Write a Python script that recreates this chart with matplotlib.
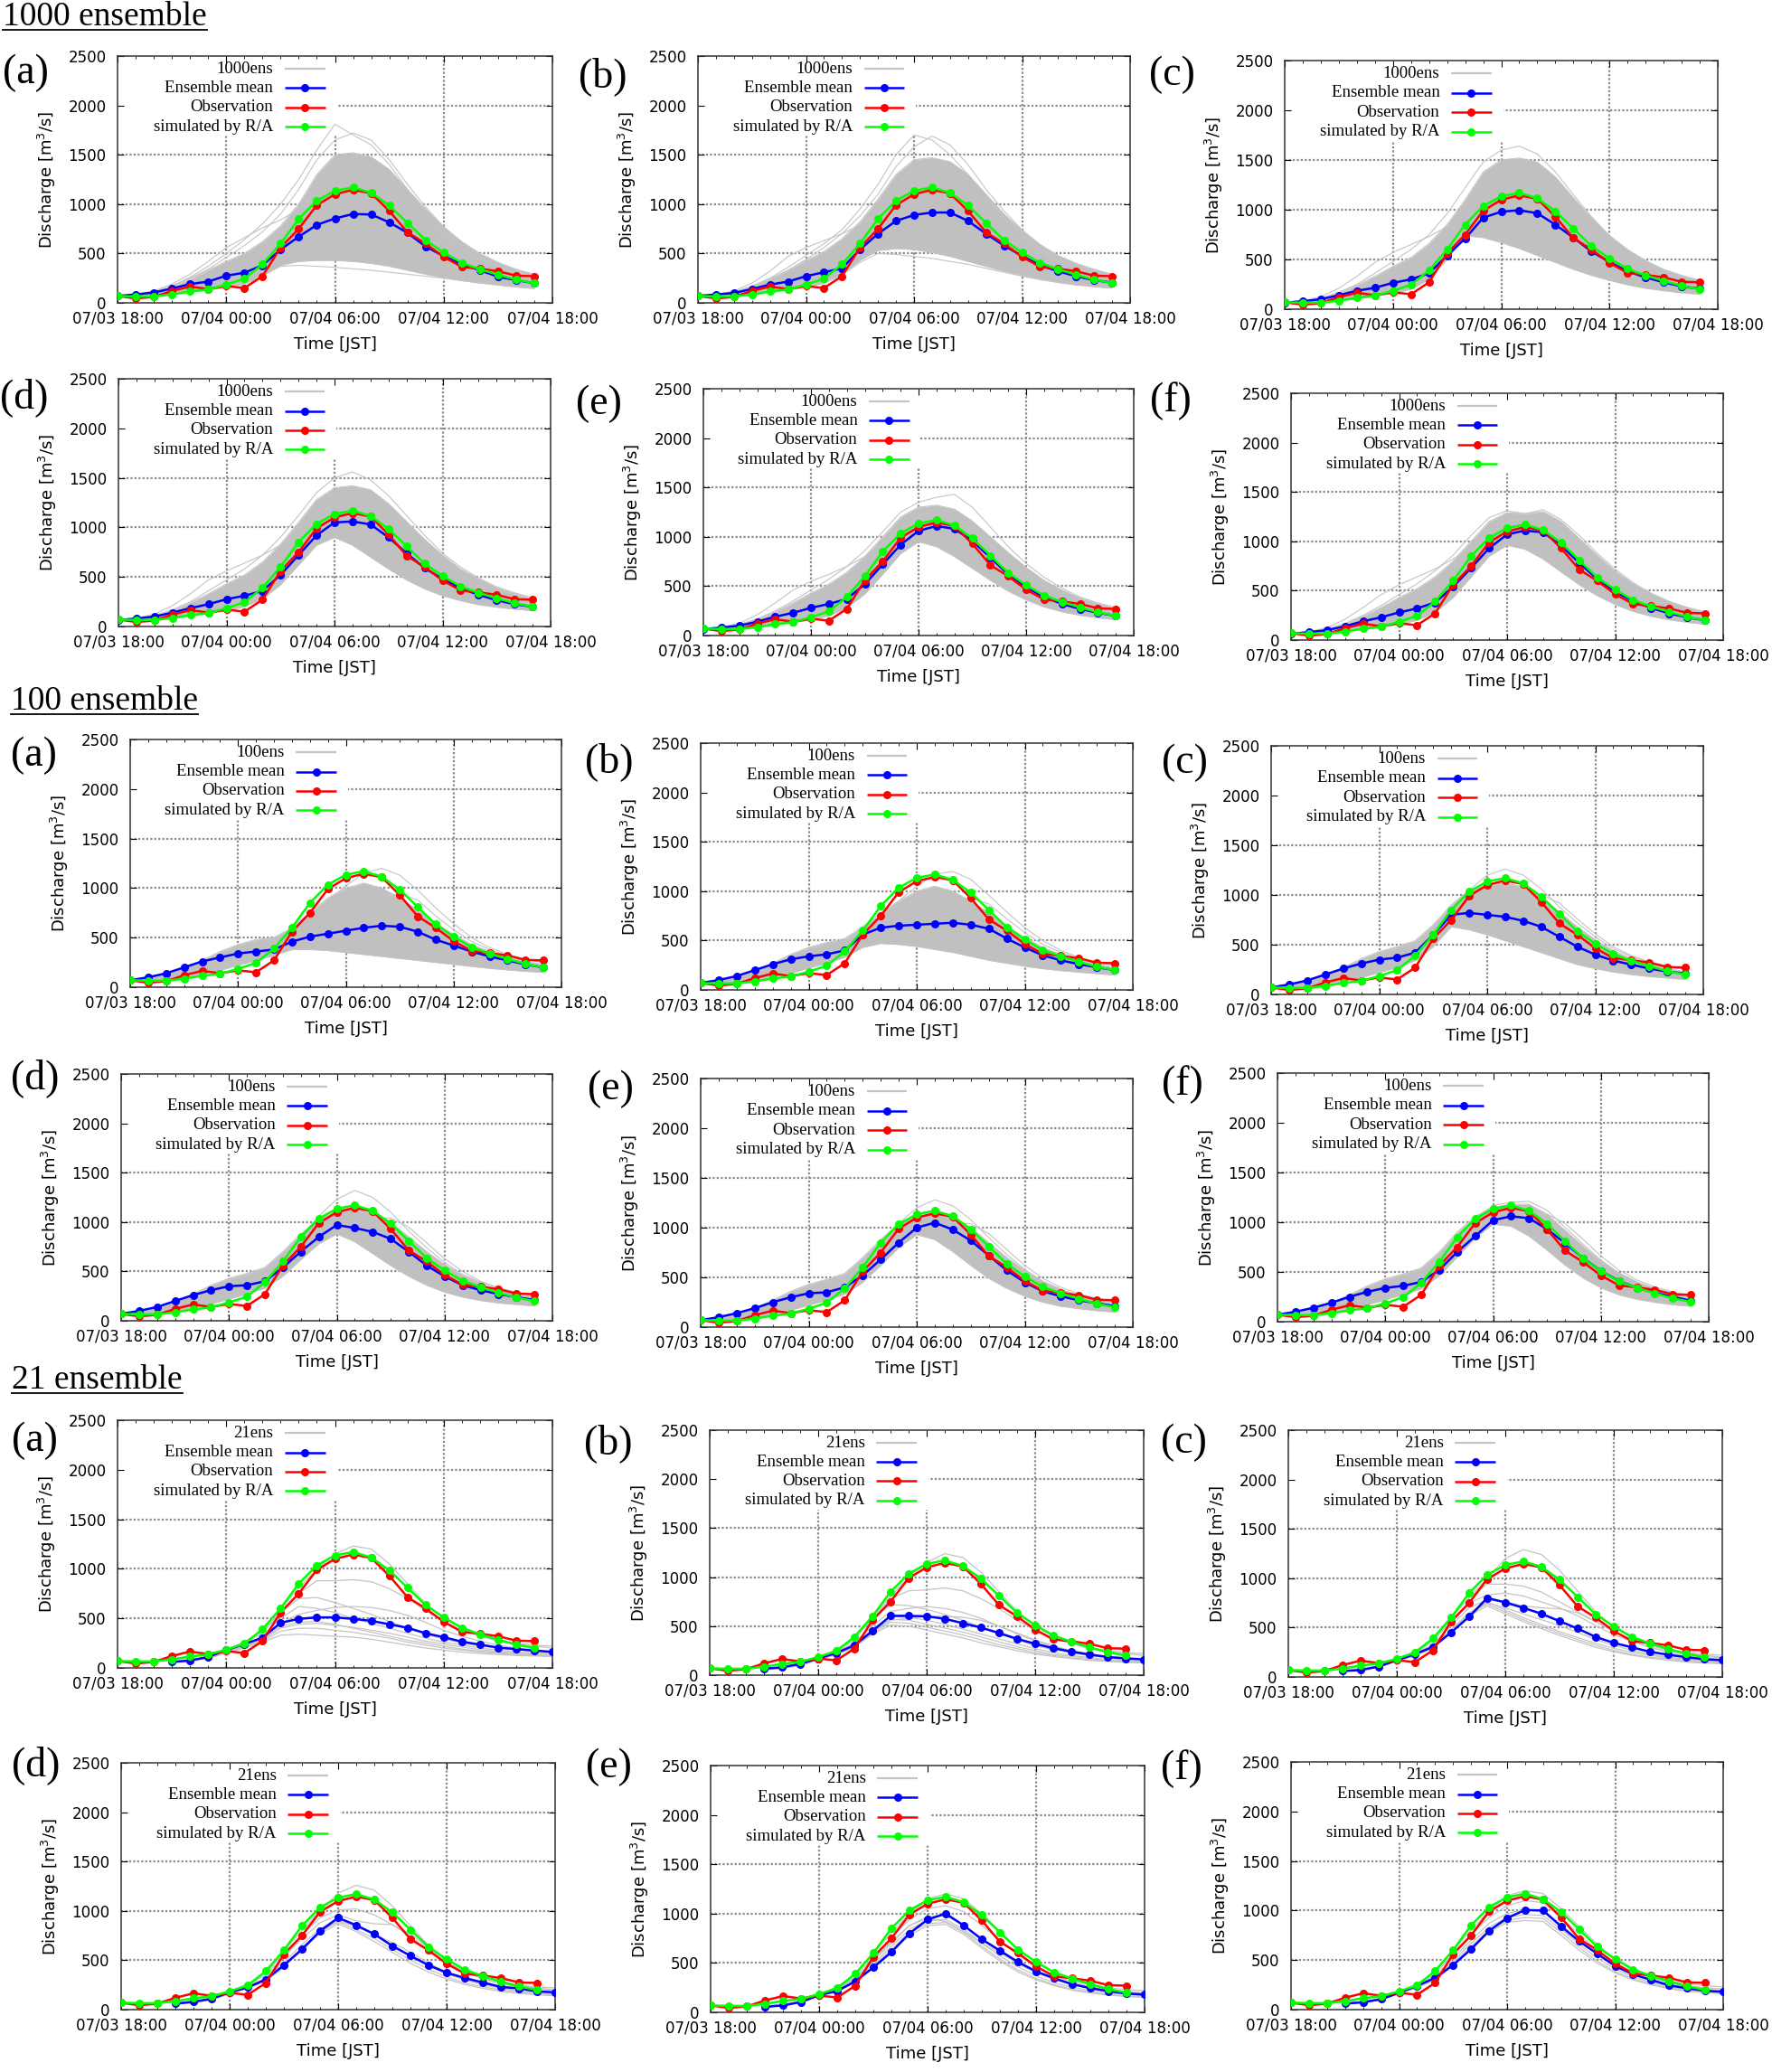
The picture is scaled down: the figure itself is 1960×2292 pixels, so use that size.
import numpy as np
import matplotlib
matplotlib.use('Agg')
import matplotlib.pyplot as plt
from matplotlib.lines import Line2D
from matplotlib.patches import Rectangle

# hours after 07/03 18:00
hours = np.arange(24)          # 18:00 .. 17:00 (obs, R/A, 1000/100 ensembles)
hours_21 = np.arange(3, 25)    # 21:00 .. 18:00 (21 ensemble)

# Observation and R/A simulation (same in every panel)
obs = [70, 45, 60, 120, 165, 140, 170, 150, 270, 560, 750, 990, 1100, 1145, 1110, 930,
       715, 600, 465, 365, 345, 320, 275, 270]
ra = [70, 65, 65, 85, 115, 135, 185, 245, 390, 600, 850, 1035, 1135, 1170, 1115, 985,
      810, 635, 510, 405, 340, 285, 235, 200]

# ---------------- 1000 ensemble ----------------
mean_1000a = [70, 85, 105, 145, 190, 215, 275, 305, 380, 540, 670, 790, 855, 900, 895, 815, 710, 570, 475, 390, 330, 265, 230, 200]
mean_1000b = [70, 85, 100, 140, 185, 215, 270, 310, 350, 540, 700, 830, 890, 915, 915, 830, 700, 580, 475, 380, 320, 270, 230, 205]
mean_1000c = [65, 80, 100, 140, 185, 215, 265, 300, 360, 540, 710, 920, 980, 995, 965, 850, 720, 580, 475, 380, 320, 270, 230, 205]
mean_1000d = [65, 80, 100, 140, 185, 225, 275, 310, 360, 520, 720, 920, 1050, 1060, 1030, 900, 740, 590, 480, 385, 320, 265, 225, 200]
mean_1000e = [65, 80, 100, 140, 190, 230, 280, 320, 370, 520, 720, 920, 1060, 1110, 1080, 960, 790, 620, 490, 390, 320, 270, 230, 200]
mean_1000f = [65, 80, 100, 140, 190, 230, 280, 320, 380, 540, 730, 930, 1070, 1110, 1090, 960, 780, 620, 490, 395, 325, 270, 230, 200]

lo_1000a = [60, 60, 70, 90, 110, 130, 160, 190, 270, 380, 420, 430, 430, 420, 400, 370, 330, 290, 255, 225, 200, 180, 160, 145]
hi_1000a = [70, 80, 110, 160, 240, 330, 420, 500, 620, 780, 1000, 1300, 1500, 1520, 1480, 1350, 1150, 950, 770, 620, 500, 410, 340, 290]
lo_1000b = [60, 60, 70, 85, 105, 130, 160, 200, 290, 430, 530, 550, 540, 510, 470, 420, 370, 320, 280, 240, 210, 185, 165, 150]
hi_1000b = [70, 80, 110, 160, 240, 330, 430, 520, 650, 820, 1050, 1300, 1450, 1470, 1430, 1300, 1100, 900, 730, 590, 480, 400, 340, 290]
lo_1000c = [60, 60, 70, 85, 105, 130, 160, 200, 300, 500, 740, 720, 670, 610, 540, 470, 400, 340, 290, 245, 210, 185, 165, 150]
hi_1000c = [70, 80, 110, 160, 240, 330, 430, 520, 660, 850, 1100, 1380, 1500, 1520, 1480, 1330, 1120, 920, 740, 600, 490, 400, 340, 290]
lo_1000d = [60, 60, 70, 85, 105, 130, 160, 200, 280, 420, 620, 820, 900, 820, 700, 580, 470, 380, 310, 260, 220, 195, 175, 160]
hi_1000d = [70, 80, 110, 160, 240, 330, 430, 520, 650, 830, 1050, 1280, 1400, 1420, 1380, 1240, 1060, 880, 720, 580, 480, 390, 330, 280]
lo_1000e = [60, 60, 70, 85, 105, 130, 160, 200, 280, 420, 620, 830, 950, 900, 800, 680, 560, 450, 360, 290, 240, 205, 180, 160]
hi_1000e = [70, 80, 110, 160, 240, 330, 430, 520, 640, 800, 1000, 1200, 1300, 1320, 1280, 1160, 1000, 840, 690, 560, 460, 380, 320, 275]
lo_1000f = [60, 60, 70, 85, 105, 130, 160, 200, 280, 430, 640, 850, 960, 920, 820, 690, 560, 450, 360, 290, 240, 205, 180, 160]
hi_1000f = [70, 80, 110, 160, 240, 330, 430, 520, 640, 800, 1000, 1200, 1290, 1280, 1300, 1200, 1030, 860, 700, 570, 470, 390, 330, 280]

# individual members standing out of the dense band
out_1000a = [
    [70, 80, 110, 170, 260, 370, 500, 640, 800, 1000, 1250, 1550, 1810, 1700, 1600, 1400, 1150, 920, 720, 560, 450, 370, 310, 270],
    [70, 80, 110, 170, 250, 340, 460, 580, 720, 900, 1150, 1450, 1650, 1720, 1650, 1450, 1200, 970, 770, 600, 480, 390, 330, 280],
    [70, 85, 120, 190, 290, 420, 560, 660, 760, 840, 950, 1150, 1350, 1450, 1400, 1250, 1050, 850, 680, 540, 440, 360, 300, 260],
    [60, 60, 70, 85, 105, 130, 160, 200, 280, 370, 380, 370, 360, 345, 330, 310, 290, 270, 250, 225, 205, 185, 170, 155],
]
out_1000b = [
    [70, 80, 110, 170, 250, 360, 480, 600, 740, 950, 1200, 1500, 1700, 1650, 1500, 1300, 1080, 870, 690, 550, 440, 360, 310, 270],
    [70, 80, 110, 165, 240, 330, 440, 560, 700, 880, 1100, 1380, 1580, 1690, 1600, 1400, 1150, 930, 740, 590, 470, 390, 330, 280],
    [70, 85, 120, 200, 320, 470, 560, 630, 700, 790, 900, 1050, 1200, 1280, 1250, 1130, 960, 790, 640, 520, 430, 360, 300, 260],
    [60, 60, 70, 85, 105, 130, 160, 200, 280, 410, 500, 490, 470, 450, 420, 390, 350, 310, 270, 235, 205, 180, 165, 150],
]
out_1000c = [
    [70, 80, 110, 170, 250, 360, 480, 600, 750, 960, 1220, 1480, 1600, 1640, 1560, 1380, 1150, 930, 740, 590, 480, 390, 330, 285],
    [70, 85, 125, 210, 330, 470, 570, 650, 730, 830, 950, 1100, 1250, 1300, 1250, 1120, 950, 780, 640, 520, 430, 360, 300, 260],
]
out_1000d = [
    [70, 80, 110, 170, 250, 360, 470, 580, 720, 900, 1120, 1350, 1500, 1560, 1480, 1320, 1120, 920, 740, 600, 490, 400, 340, 290],
    [70, 85, 125, 210, 330, 470, 560, 640, 720, 820, 950, 1100, 1250, 1300, 1250, 1120, 950, 780, 630, 510, 420, 350, 300, 260],
]
out_1000e = [
    [70, 80, 110, 170, 250, 350, 460, 570, 700, 860, 1050, 1250, 1350, 1400, 1430, 1300, 1100, 900, 730, 590, 480, 390, 330, 285],
    [70, 85, 125, 210, 330, 460, 550, 620, 700, 800, 930, 1080, 1200, 1250, 1200, 1080, 920, 760, 620, 500, 410, 345, 295, 260],
]
out_1000f = [
    [70, 80, 110, 170, 250, 350, 460, 570, 700, 860, 1060, 1240, 1310, 1280, 1320, 1220, 1060, 880, 720, 580, 475, 390, 330, 285],
    [70, 85, 125, 210, 330, 460, 560, 640, 720, 820, 940, 1080, 1200, 1230, 1200, 1080, 920, 760, 620, 500, 410, 345, 295, 260],
]

# ---------------- 100 ensemble ----------------
mean_100a = [70, 100, 140, 200, 260, 300, 340, 360, 380, 460, 510, 540, 570, 600, 620, 610, 560, 480, 420, 360, 310, 270, 230, 200]
mean_100b = [70, 100, 140, 200, 260, 310, 340, 360, 400, 560, 630, 650, 660, 670, 680, 660, 620, 520, 430, 350, 300, 260, 230, 200]
mean_100c = [70, 100, 140, 200, 260, 310, 350, 370, 420, 600, 800, 820, 800, 780, 740, 680, 580, 480, 400, 340, 300, 260, 230, 210]
mean_100d = [70, 100, 140, 200, 260, 310, 350, 360, 400, 540, 700, 850, 970, 940, 900, 830, 700, 560, 450, 360, 310, 270, 240, 210]
mean_100e = [70, 100, 140, 190, 250, 300, 340, 350, 400, 520, 680, 850, 1000, 1050, 980, 870, 720, 570, 450, 360, 310, 270, 240, 210]
mean_100f = [70, 100, 140, 190, 250, 300, 340, 360, 400, 520, 700, 860, 1020, 1060, 1040, 930, 790, 640, 510, 410, 340, 290, 250, 210]

lo_100a = [60, 60, 75, 95, 130, 170, 220, 270, 320, 380, 380, 370, 350, 330, 310, 290, 270, 250, 230, 210, 190, 175, 160, 150]
hi_100a = [70, 90, 130, 190, 270, 360, 430, 480, 500, 600, 750, 900, 1000, 1050, 1000, 900, 780, 650, 530, 430, 360, 300, 260, 230]
lo_100b = [60, 60, 75, 95, 130, 170, 220, 270, 330, 430, 470, 460, 440, 410, 380, 340, 300, 270, 240, 215, 195, 180, 165, 150]
hi_100b = [70, 90, 130, 190, 270, 360, 430, 480, 520, 640, 780, 900, 1000, 1050, 1000, 900, 780, 650, 530, 430, 360, 300, 260, 230]
lo_100c = [60, 60, 75, 95, 130, 170, 220, 270, 340, 480, 680, 650, 600, 540, 480, 420, 360, 300, 260, 225, 200, 180, 165, 150]
hi_100c = [70, 90, 130, 190, 270, 360, 430, 480, 540, 700, 900, 1050, 1100, 1120, 1080, 980, 830, 680, 550, 440, 360, 300, 260, 230]
lo_100d = [60, 60, 75, 95, 130, 170, 220, 270, 330, 450, 620, 780, 880, 800, 680, 560, 450, 360, 290, 240, 205, 180, 165, 150]
hi_100d = [70, 90, 130, 190, 270, 360, 430, 480, 540, 700, 880, 1030, 1120, 1150, 1100, 1000, 850, 700, 570, 460, 380, 310, 270, 240]
lo_100e = [60, 60, 75, 95, 130, 170, 220, 270, 330, 450, 620, 800, 930, 880, 760, 620, 490, 390, 310, 250, 210, 185, 165, 150]
hi_100e = [70, 90, 130, 190, 270, 360, 430, 480, 540, 700, 880, 1040, 1130, 1150, 1100, 1000, 850, 700, 570, 460, 380, 310, 270, 240]
lo_100f = [60, 60, 75, 95, 130, 170, 220, 270, 330, 460, 650, 840, 980, 960, 860, 720, 570, 440, 340, 270, 225, 195, 170, 155]
hi_100f = [70, 90, 130, 190, 270, 360, 430, 480, 540, 700, 900, 1060, 1150, 1180, 1180, 1080, 920, 760, 610, 490, 400, 330, 280, 240]

out_100a = [
    [70, 90, 130, 190, 260, 340, 410, 460, 490, 580, 720, 880, 1020, 1150, 1200, 1130, 980, 800, 640, 500, 400, 330, 280, 250],
    [70, 90, 130, 190, 260, 340, 410, 460, 500, 560, 640, 720, 800, 870, 920, 940, 880, 720, 580, 460, 380, 320, 280, 250],
]
out_100b = [
    [70, 90, 130, 190, 260, 340, 410, 460, 500, 600, 740, 900, 1050, 1170, 1200, 1120, 960, 790, 630, 500, 400, 330, 280, 250],
    [70, 90, 130, 190, 260, 340, 410, 460, 500, 580, 680, 770, 850, 900, 920, 930, 870, 720, 580, 460, 380, 320, 280, 250],
]
out_100c = [
    [70, 90, 130, 190, 260, 340, 410, 460, 520, 660, 860, 1050, 1200, 1260, 1200, 1060, 880, 720, 580, 460, 380, 320, 280, 250],
    [70, 90, 130, 190, 260, 340, 410, 460, 510, 620, 760, 880, 950, 980, 990, 1000, 920, 760, 610, 480, 390, 330, 285, 250],
]
out_100d = [
    [70, 90, 130, 190, 260, 340, 410, 460, 520, 660, 860, 1060, 1230, 1320, 1250, 1100, 910, 740, 590, 470, 390, 330, 285, 250],
    [70, 90, 130, 190, 260, 340, 410, 460, 510, 620, 770, 900, 990, 1030, 1040, 1040, 950, 790, 630, 500, 400, 335, 290, 255],
]
out_100e = [
    [70, 90, 130, 190, 260, 340, 410, 460, 520, 660, 850, 1040, 1200, 1280, 1220, 1080, 900, 730, 580, 460, 380, 320, 280, 250],
    [70, 90, 130, 190, 260, 340, 410, 460, 510, 620, 770, 900, 990, 1030, 1050, 1040, 940, 780, 620, 490, 400, 335, 290, 255],
]
out_100f = [
    [70, 90, 130, 190, 260, 340, 410, 460, 520, 660, 850, 1040, 1170, 1200, 1210, 1120, 950, 780, 620, 490, 400, 335, 290, 255],
    [70, 90, 130, 190, 260, 340, 410, 460, 510, 620, 770, 900, 1000, 1050, 1070, 1080, 990, 830, 660, 520, 420, 350, 300, 260],
]

# ---------------- 21 ensemble (21:00 .. 18:00) ----------------
mean_21a = [60, 75, 110, 180, 240, 305, 455, 495, 510, 510, 495, 475, 440, 405, 350, 310, 265, 235, 205, 190, 175, 160]
mean_21b = [65, 80, 115, 170, 225, 305, 450, 605, 605, 600, 575, 530, 485, 430, 370, 320, 275, 240, 210, 185, 170, 160]
mean_21c = [60, 70, 105, 170, 230, 305, 450, 610, 800, 755, 700, 640, 565, 490, 405, 345, 300, 255, 225, 200, 180, 170]
mean_21d = [60, 80, 110, 175, 225, 305, 450, 610, 795, 930, 855, 765, 645, 545, 450, 375, 320, 275, 230, 215, 185, 175]
mean_21e = [55, 70, 105, 175, 215, 315, 455, 610, 800, 940, 1000, 880, 740, 625, 510, 415, 345, 285, 245, 215, 190, 180]
mean_21f = [60, 75, 105, 170, 240, 320, 450, 610, 795, 925, 1005, 1000, 840, 690, 565, 440, 355, 300, 245, 215, 190, 180]

mem_21a = [
    [60, 80, 110, 180, 260, 380, 600, 800, 1000, 1150, 1230, 1200, 1050, 850, 650, 500, 400, 330, 280, 250, 230, 220],
    [60, 80, 110, 180, 260, 370, 560, 750, 880, 880, 890, 870, 800, 700, 580, 470, 380, 320, 270, 240, 220, 200],
    [60, 80, 110, 180, 250, 350, 560, 700, 710, 660, 600, 540, 470, 400, 340, 290, 250, 220, 200, 180, 170, 160],
    [60, 80, 110, 170, 230, 300, 450, 540, 580, 610, 620, 610, 580, 530, 460, 380, 320, 270, 230, 200, 180, 170],
    [60, 75, 105, 170, 230, 320, 500, 620, 600, 560, 500, 450, 400, 350, 300, 260, 230, 200, 180, 160, 150, 140],
    [55, 70, 100, 165, 220, 290, 420, 460, 470, 440, 400, 360, 320, 280, 250, 220, 190, 170, 155, 140, 130, 125],
    [55, 70, 100, 160, 210, 280, 400, 440, 450, 430, 410, 380, 350, 310, 270, 240, 210, 185, 165, 150, 140, 135],
    [55, 70, 95, 150, 200, 260, 330, 340, 330, 320, 310, 290, 260, 230, 200, 180, 160, 145, 135, 125, 120, 115],
    [55, 70, 100, 160, 210, 270, 370, 400, 400, 380, 360, 330, 300, 260, 230, 200, 180, 160, 145, 135, 125, 120],
]
mem_21b = [
    [60, 80, 110, 180, 260, 380, 600, 800, 1000, 1150, 1240, 1200, 1050, 850, 650, 500, 400, 330, 280, 250, 230, 220],
    [60, 80, 110, 180, 260, 380, 580, 780, 860, 870, 890, 860, 780, 680, 560, 460, 380, 320, 270, 240, 220, 200],
    [60, 80, 110, 180, 250, 360, 580, 720, 710, 670, 620, 560, 490, 420, 360, 300, 260, 230, 200, 180, 170, 160],
    [60, 80, 110, 175, 240, 330, 500, 650, 680, 700, 680, 640, 580, 500, 420, 350, 290, 250, 220, 190, 180, 170],
    [60, 75, 105, 170, 230, 310, 470, 600, 590, 560, 520, 470, 420, 370, 320, 270, 230, 200, 180, 160, 150, 140],
    [55, 75, 100, 165, 220, 300, 450, 570, 560, 520, 480, 440, 390, 340, 290, 250, 210, 190, 170, 150, 140, 135],
    [55, 70, 100, 160, 215, 290, 430, 540, 530, 490, 450, 410, 360, 310, 270, 230, 200, 175, 160, 145, 135, 130],
    [55, 70, 95, 155, 210, 280, 420, 510, 500, 460, 420, 380, 330, 290, 250, 215, 190, 170, 150, 140, 130, 125],
    [55, 70, 100, 160, 215, 290, 440, 560, 580, 600, 600, 590, 560, 500, 430, 360, 300, 250, 210, 190, 175, 165],
]
mem_21c = [
    [60, 80, 110, 180, 260, 380, 600, 800, 1000, 1200, 1290, 1240, 1080, 870, 660, 500, 400, 330, 280, 250, 230, 220],
    [60, 80, 110, 180, 260, 380, 600, 800, 940, 940, 920, 860, 760, 660, 560, 460, 380, 320, 270, 240, 220, 200],
    [60, 80, 110, 180, 250, 360, 570, 750, 830, 850, 820, 760, 700, 620, 520, 430, 360, 300, 260, 230, 210, 190],
    [60, 75, 105, 175, 240, 330, 520, 700, 780, 760, 720, 700, 690, 650, 560, 460, 370, 300, 250, 210, 190, 175],
    [60, 75, 105, 170, 230, 310, 480, 650, 760, 680, 600, 530, 460, 400, 340, 290, 250, 220, 190, 170, 160, 150],
    [55, 75, 100, 165, 225, 300, 470, 640, 740, 660, 580, 510, 440, 380, 320, 270, 230, 200, 180, 160, 150, 140],
    [55, 70, 100, 160, 215, 290, 450, 620, 720, 640, 560, 490, 420, 360, 300, 255, 220, 190, 170, 150, 140, 135],
    [55, 70, 100, 160, 215, 290, 460, 630, 750, 700, 640, 580, 520, 450, 380, 320, 270, 230, 200, 180, 165, 155],
]
mem_21d = [
    [60, 80, 110, 180, 260, 380, 600, 800, 1000, 1180, 1260, 1210, 1050, 850, 650, 500, 400, 330, 280, 250, 230, 220],
    [60, 80, 110, 180, 260, 370, 570, 760, 930, 1010, 1020, 960, 860, 740, 600, 480, 390, 320, 270, 240, 220, 200],
    [60, 80, 110, 175, 250, 350, 530, 720, 880, 960, 900, 870, 860, 770, 620, 480, 380, 310, 260, 230, 210, 190],
    [60, 75, 105, 170, 235, 320, 480, 660, 820, 920, 850, 760, 650, 540, 440, 360, 300, 250, 215, 190, 170, 160],
    [55, 75, 100, 165, 225, 300, 450, 630, 790, 890, 810, 720, 610, 500, 410, 330, 270, 230, 200, 175, 160, 150],
    [55, 70, 100, 160, 215, 290, 430, 610, 770, 870, 790, 690, 580, 470, 380, 310, 255, 215, 185, 165, 150, 140],
    [55, 70, 100, 160, 220, 300, 440, 620, 790, 900, 840, 760, 680, 580, 470, 380, 310, 260, 220, 190, 175, 165],
]
mem_21e = [
    [60, 80, 110, 180, 260, 380, 600, 800, 1000, 1150, 1200, 1150, 1000, 820, 640, 500, 400, 330, 280, 250, 230, 220],
    [60, 80, 110, 180, 255, 360, 560, 760, 940, 1050, 1080, 1020, 880, 730, 580, 460, 370, 310, 260, 230, 210, 200],
    [60, 75, 105, 175, 245, 340, 520, 700, 880, 970, 980, 880, 740, 610, 490, 400, 330, 280, 240, 210, 195, 185],
    [55, 75, 100, 170, 235, 320, 490, 670, 840, 930, 940, 840, 700, 570, 460, 370, 300, 255, 220, 195, 180, 170],
    [55, 70, 100, 165, 225, 305, 470, 640, 810, 900, 910, 810, 670, 540, 430, 345, 280, 235, 205, 180, 165, 155],
    [55, 70, 100, 160, 220, 295, 450, 620, 780, 880, 890, 790, 650, 520, 410, 330, 270, 225, 195, 175, 160, 150],
    [55, 75, 105, 170, 240, 340, 530, 720, 880, 950, 920, 820, 700, 600, 500, 410, 340, 290, 250, 220, 200, 190],
]
mem_21f = [
    [60, 80, 110, 180, 260, 380, 600, 800, 1000, 1150, 1200, 1170, 1020, 840, 660, 510, 410, 340, 290, 260, 240, 230],
    [60, 80, 110, 180, 255, 360, 560, 760, 930, 1050, 1100, 1080, 930, 760, 600, 470, 380, 320, 270, 240, 220, 210],
    [60, 75, 105, 175, 245, 340, 520, 700, 870, 970, 1010, 1000, 860, 700, 560, 440, 360, 300, 255, 225, 205, 195],
    [55, 75, 100, 170, 235, 320, 490, 670, 830, 930, 960, 950, 810, 660, 520, 410, 330, 275, 235, 205, 190, 180],
    [55, 70, 100, 165, 225, 305, 470, 640, 800, 900, 930, 920, 780, 630, 490, 385, 310, 260, 220, 195, 180, 170],
    [55, 70, 100, 160, 220, 295, 450, 620, 780, 880, 900, 890, 750, 600, 470, 370, 300, 250, 210, 185, 170, 160],
]

tick_labels = ['07/03 18:00', '07/04 00:00', '07/04 06:00', '07/04 12:00', '07/04 18:00']
x_ticks = [0, 6, 12, 18, 24]
y_ticks = [0, 500, 1000, 1500, 2000, 2500]

# ---------------- layout (pixels of the 1960x2292 figure) ----------------
W, H = 1960, 2292
BLUE, RED, GREEN, GRAY = '#0000ff', '#ff0000', '#00ff00', '#c4c4c4'
GRID = dict(color='#8a8a8a', linestyle=(0, (1, 1)), lw=1.6, zorder=0.5)
SERIF = ['Liberation Serif', 'DejaVu Serif']

# (left, top, right, bottom) of every axes box, and (x, y-centre) of its letter
panels = [
    # 1000 ensemble
    ((130, 62, 611, 335), (3, 81), '(a)', '1000ens', mean_1000a, (lo_1000a, hi_1000a, out_1000a)),
    ((772, 62, 1250, 335), (640, 85), '(b)', '1000ens', mean_1000b, (lo_1000b, hi_1000b, out_1000b)),
    ((1421, 67, 1900, 342), (1271, 83), '(c)', '1000ens', mean_1000c, (lo_1000c, hi_1000c, out_1000c)),
    ((131, 419, 609, 693), (0, 440), '(d)', '1000ens', mean_1000d, (lo_1000d, hi_1000d, out_1000d)),
    ((778, 430, 1254, 703), (637, 447), '(e)', '1000ens', mean_1000e, (lo_1000e, hi_1000e, out_1000e)),
    ((1428, 435, 1906, 708), (1272, 444), '(f)', '1000ens', mean_1000f, (lo_1000f, hi_1000f, out_1000f)),
    # 100 ensemble
    ((144, 818, 621, 1092), (12, 836), '(a)', '100ens', mean_100a, (lo_100a, hi_100a, out_100a)),
    ((775, 822, 1253, 1095), (647, 843), '(b)', '100ens', mean_100b, (lo_100b, hi_100b, out_100b)),
    ((1406, 825, 1884, 1100), (1285, 844), '(c)', '100ens', mean_100c, (lo_100c, hi_100c, out_100c)),
    ((134, 1188, 611, 1461), (12, 1193), '(d)', '100ens', mean_100d, (lo_100d, hi_100d, out_100d)),
    ((775, 1193, 1253, 1468), (650, 1205), '(e)', '100ens', mean_100e, (lo_100e, hi_100e, out_100e)),
    ((1413, 1187, 1890, 1462), (1285, 1200), '(f)', '100ens', mean_100f, (lo_100f, hi_100f, out_100f)),
    # 21 ensemble
    ((130, 1571, 611, 1845), (13, 1594), '(a)', '21ens', mean_21a, mem_21a),
    ((785, 1582, 1265, 1853), (646, 1597), '(b)', '21ens', mean_21b, mem_21b),
    ((1425, 1582, 1905, 1855), (1284, 1596), '(c)', '21ens', mean_21c, mem_21c),
    ((134, 1950, 614, 2223), (13, 1953), '(d)', '21ens', mean_21d, mem_21d),
    ((786, 1953, 1266, 2226), (648, 1955), '(e)', '21ens', mean_21e, mem_21e),
    ((1428, 1949, 1906, 2223), (1284, 1957), '(f)', '21ens', mean_21f, mem_21f),
]

headers = [('1000 ensemble', 3, 28), ('100 ensemble', 12, 785), ('21 ensemble', 13, 1536)]

fig = plt.figure(figsize=(W / 100, H / 100), dpi=100)


def draw_key(ax, ens_name):
    # gnuplot style key: right-aligned text, sample on the right, opaque box
    ax.add_patch(Rectangle((0, 0.677), 0.505, 0.323, transform=ax.transAxes,
                           facecolor='white', edgecolor='none', zorder=1))
    rows = [(ens_name, GRAY, False), ('Ensemble mean', BLUE, True),
            ('Observation', RED, True), ('simulated by R/A', GREEN, True)]
    for i, (txt, col, dot) in enumerate(rows):
        y = 1 - 0.052 - 0.078 * i
        ax.text(0.358, y, txt, transform=ax.transAxes, ha='right', va='center',
                fontsize=13.5, family=SERIF, zorder=6)
        ax.plot([0.384, 0.478], [y, y], transform=ax.transAxes, color=col,
                lw=1.8 if dot else 1.6, zorder=6, solid_capstyle='butt')
        if dot:
            ax.plot([0.431], [y], 'o', transform=ax.transAxes, color=col, ms=5.5, zorder=6)


for box, lab_pos, letter, ens_name, mean, gray in panels:
    l, t, r, b = box
    ax = fig.add_axes([l / W, 1 - b / H, (r - l) / W, (b - t) / H])

    # dotted grid drawn as plain reference lines
    for yv in y_ticks[1:-1]:
        ax.axhline(yv, **GRID)
    for xv in x_ticks[1:-1]:
        ax.axvline(xv, **GRID)

    if ens_name == '21ens':
        for m in gray:
            ax.plot(hours_21, m, color=GRAY, lw=0.9, zorder=2)
        ax.plot(hours_21, mean, '-o', color=BLUE, lw=1.8, ms=5.5, zorder=4)
    else:
        lo, hi, extra = gray
        ax.fill_between(hours, lo, hi, color='#c0c0c0', lw=0, zorder=2)
        ax.plot(hours, lo, color=GRAY, lw=0.8, zorder=2)
        ax.plot(hours, hi, color=GRAY, lw=0.8, zorder=2)
        for m in extra:
            ax.plot(hours, m, color=GRAY, lw=0.8, zorder=2)
        ax.plot(hours, mean, '-o', color=BLUE, lw=1.8, ms=5.5, zorder=4)
    ax.plot(hours, obs, '-o', color=RED, lw=1.8, ms=5.5, zorder=4)
    ax.plot(hours, ra, '-o', color=GREEN, lw=1.8, ms=5.5, zorder=5)

    ax.set_xlim(0, 24)
    ax.set_ylim(0, 2500)
    ax.set_xticks(x_ticks)
    ax.set_xticklabels(tick_labels)
    ax.set_xticks(np.arange(0, 25, 1), minor=True)
    ax.set_yticks(y_ticks)
    ax.tick_params(which='both', direction='in', top=True, right=True, labelsize=12)
    ax.tick_params(which='major', length=5, width=0.8)
    ax.tick_params(which='minor', length=2.5, width=0.6)
    ax.tick_params(axis='x', which='major', pad=6)
    ax.tick_params(axis='y', which='major', pad=9)
    for s in ax.spines.values():
        s.set_linewidth(1.1)
        s.set_color('#333333')
    ax.set_xlabel('Time [JST]', fontsize=13, labelpad=8)
    ax.set_ylabel('Discharge [m$^3$/s]', fontsize=13, labelpad=8)

    draw_key(ax, ens_name)

    fig.text(lab_pos[0] / W, 1 - lab_pos[1] / H, letter, fontsize=33, family=SERIF,
             ha='left', va='center')

# section titles with underline
renderer = fig.canvas.get_renderer()
for txt, x, y in headers:
    t = fig.text(x / W, 1 - y / H, txt, fontsize=27, family=SERIF, ha='left', va='baseline')
    bb = t.get_window_extent(renderer)
    uy = 1 - (y + 5) / H
    fig.add_artist(Line2D([bb.x0 / W, bb.x1 / W], [uy, uy], color='black', lw=1.3))

fig.savefig('out.png', dpi=100)
